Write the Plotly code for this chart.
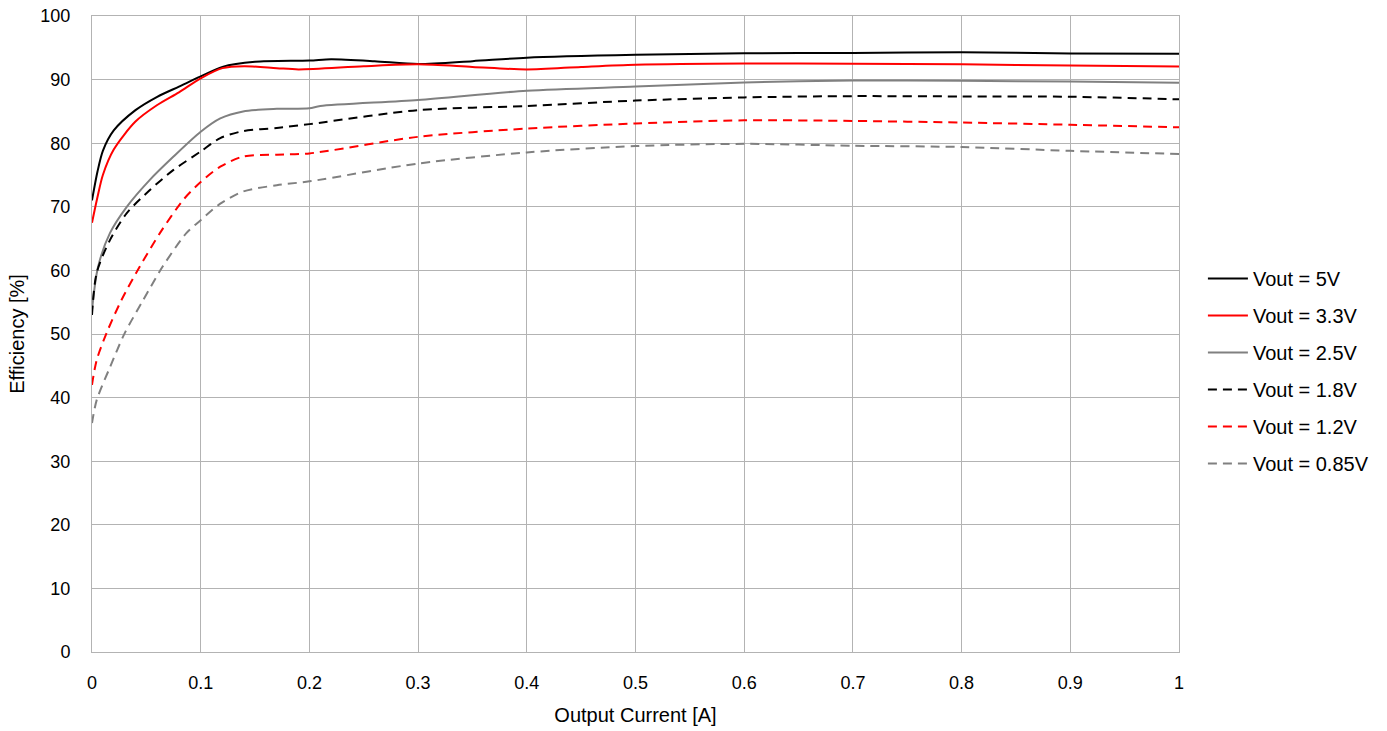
import plotly.graph_objects as go

# ---- data ----
x_5v = [0, 0.005, 0.01, 0.02, 0.04, 0.06, 0.08, 0.1, 0.12, 0.15, 0.2, 0.22, 0.26, 0.3, 0.35, 0.4, 0.5, 0.6, 0.7, 0.8, 0.9, 1.0]
y_5v = [71, 75.5, 78.8, 82, 85.2, 87.3, 88.9, 90.5, 92, 92.8, 93.0, 93.2, 92.9, 92.45, 92.9, 93.45, 93.9, 94.15, 94.2, 94.3, 94.1, 94.05]

x_3v3 = [0, 0.005, 0.01, 0.02, 0.04, 0.06, 0.08, 0.1, 0.12, 0.14, 0.17, 0.19, 0.25, 0.3, 0.35, 0.4, 0.45, 0.5, 0.6, 0.7, 0.8, 0.9, 1.0]
y_3v3 = [67.5, 71.5, 75, 79, 83.4, 86, 88, 90.2, 91.8, 92.1, 91.8, 91.6, 92.1, 92.4, 92.0, 91.6, 92.0, 92.35, 92.55, 92.5, 92.4, 92.2, 92.05]

x_2v5 = [0, 0.0055, 0.0166, 0.032, 0.053, 0.075, 0.1, 0.118, 0.139, 0.17, 0.2, 0.21, 0.3, 0.4, 0.5, 0.6, 0.7, 0.8, 0.9, 1.0]
y_2v5 = [53.8, 60.5, 65.9, 70, 74.2, 77.9, 81.8, 83.9, 85, 85.4, 85.5, 85.85, 86.8, 88.25, 88.9, 89.55, 89.85, 89.8, 89.7, 89.5]

x_1v8 = [0, 0.0043, 0.0166, 0.032, 0.053, 0.075, 0.1, 0.118, 0.139, 0.17, 0.2, 0.3, 0.4, 0.5, 0.6, 0.7, 0.8, 0.9, 1.0]
y_1v8 = [53, 59.6, 64.8, 69, 72.6, 75.8, 78.7, 80.8, 81.9, 82.4, 83.0, 85.2, 85.85, 86.7, 87.2, 87.4, 87.35, 87.3, 86.9]

x_1v2 = [0, 0.0043, 0.0135, 0.027, 0.044, 0.0626, 0.084, 0.1, 0.118, 0.139, 0.17, 0.2, 0.3, 0.4, 0.5, 0.6, 0.7, 0.8, 0.9, 1.0]
y_1v2 = [42, 45.9, 50.2, 55.3, 60.6, 65.9, 71.1, 73.9, 76.3, 77.9, 78.2, 78.4, 81, 82.3, 83.1, 83.6, 83.5, 83.25, 82.9, 82.5]

x_0v85 = [0, 0.0043, 0.0166, 0.030, 0.047, 0.065, 0.087, 0.1, 0.118, 0.139, 0.17, 0.2, 0.3, 0.4, 0.5, 0.6, 0.7, 0.8, 0.9, 1.0]
y_0v85 = [36, 39.6, 44.8, 50.1, 55.3, 60.6, 65.9, 67.9, 70.5, 72.4, 73.4, 74.0, 76.8, 78.55, 79.55, 79.9, 79.6, 79.4, 78.8, 78.3]

names = ["Vout = 5V", "Vout = 3.3V", "Vout = 2.5V", "Vout = 1.8V", "Vout = 1.2V", "Vout = 0.85V"]
xs = [x_5v, x_3v3, x_2v5, x_1v8, x_1v2, x_0v85]
ys = [y_5v, y_3v3, y_2v5, y_1v8, y_1v2, y_0v85]
colors = ["#000000", "#ff0000", "#808080", "#000000", "#ff0000", "#808080"]
dashes = ["solid", "solid", "solid", "9px,6px", "9px,6px", "9px,6px"]

FONT = "Liberation Sans, Arial, sans-serif"
GRID = "#b3b3b3"

fig = go.Figure()
for i in range(6):
    fig.add_trace(go.Scatter(
        x=xs[i], y=ys[i], name=names[i], mode="lines",
        line=dict(color=colors[i], width=2, dash=dashes[i], shape="spline", smoothing=0.8),
        legendgroup=f"g{i}",
    ))

fig.update_layout(
    width=1387, height=731,
    margin=dict(l=92, r=208, t=16, b=79, autoexpand=False),
    paper_bgcolor="white", plot_bgcolor="white",
    font=dict(family=FONT, size=20, color="#000000"),
    showlegend=True,
    legend=dict(x=1.022, xanchor="left", y=0.442, yanchor="middle",
                font=dict(family=FONT, size=20), tracegroupgap=8, itemwidth=40,
                bgcolor="rgba(0,0,0,0)"),
)
fig.update_xaxes(
    range=[0, 1], dtick=0.1, tick0=0, showgrid=True, gridcolor=GRID, gridwidth=1,
    zeroline=False, showline=True, mirror=True, linecolor=GRID, linewidth=1,
    ticks="", ticklabelstandoff=14, automargin=False, tickfont=dict(size=18),
    title=dict(text="Output Current [A]", standoff=16, font=dict(family=FONT, size=20)),
)
fig.update_yaxes(
    range=[0, 100], dtick=10, tick0=0, showgrid=True, gridcolor=GRID, gridwidth=1,
    zeroline=False, showline=True, mirror=True, linecolor=GRID, linewidth=1,
    ticks="", ticklabelstandoff=17, automargin=False, tickfont=dict(size=18),
    title=dict(text="Efficiency [%]", standoff=10, font=dict(family=FONT, size=20)),
)

fig.write_html("out.html", config={"displayModeBar": False},
               post_script="document.body.style.margin='0';")
